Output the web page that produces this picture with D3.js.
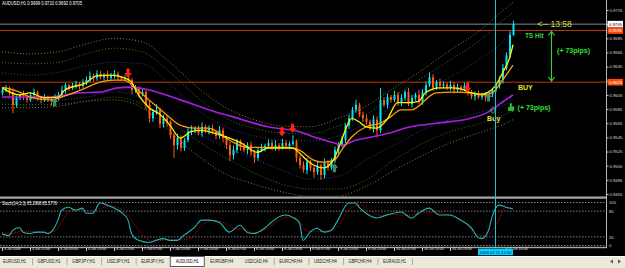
<!DOCTYPE html>
<html>
<head>
<meta charset="utf-8">
<script src="https://d3js.org/d3.v7.min.js"></script>
<style>
body { margin: 0; background: #000; overflow: hidden; }
svg { display: block; }
text { font-family: "Liberation Sans", Arial, sans-serif; }
</style>
</head>
<body>
<svg width="625" height="268"></svg>
<script>
/* AUDUSD H1 bars, 3 Jul 13:00 .. 11 Jul 17:00 */
var firstOpen = 0.9608;
var closes = [
    0.9612, 0.9615, 0.9609, 0.9591, 0.9601, 0.9605, 0.9603, 0.9598, 0.9605, 0.9609,
    0.9601, 0.9598, 0.9602, 0.9599, 0.9596, 0.9601, 0.9605, 0.9612, 0.9619, 0.9615,
    0.9618, 0.9620, 0.9618, 0.9623, 0.9626, 0.9632, 0.9629, 0.9635, 0.9630, 0.9633,
    0.9629, 0.9632, 0.9635, 0.9630, 0.9628, 0.9629, 0.9626, 0.9612, 0.9615, 0.9606,
    0.9609, 0.9591, 0.9572, 0.9581, 0.9584, 0.9564, 0.9572, 0.9567, 0.9548, 0.9534,
    0.9544, 0.9530, 0.9541, 0.9553, 0.9555, 0.9558, 0.9551, 0.9560, 0.9555, 0.9558,
    0.9553, 0.9547, 0.9555, 0.9544, 0.9534, 0.9520, 0.9527, 0.9539, 0.9531, 0.9527,
    0.9534, 0.9524, 0.9516, 0.9527, 0.9530, 0.9533, 0.9537, 0.9530, 0.9534, 0.9531,
    0.9537, 0.9533, 0.9536, 0.9539, 0.9516, 0.9506, 0.9499, 0.9510, 0.9502, 0.9496,
    0.9505, 0.9492, 0.9509, 0.9502, 0.9513, 0.9527, 0.9534, 0.9541, 0.9562, 0.9572,
    0.9584, 0.9591, 0.9577, 0.9572, 0.9567, 0.9558, 0.9570, 0.9555, 0.9598, 0.9591,
    0.9602, 0.9598, 0.9605, 0.9595, 0.9601, 0.9609, 0.9592, 0.9601, 0.9605, 0.9595,
    0.9609, 0.9619, 0.9630, 0.9615, 0.9623, 0.9618, 0.9620, 0.9615, 0.9619, 0.9612,
    0.9616, 0.9613, 0.9618, 0.9609, 0.9603, 0.9606, 0.9602, 0.9605, 0.9601, 0.9606,
    0.9612, 0.9618, 0.9626, 0.9643, 0.9661, 0.9690, 0.9705
];
// wick lengths in pips above / below the body
var upWick = [
    3, 4, 2, 5, 3, 2, 6, 3, 4, 5,
    2, 3, 4, 2, 3, 5, 4, 6, 3, 2,
    4, 5, 3, 4, 5, 6, 3, 5, 4, 3,
    6, 4, 5, 3, 2, 4, 6, 3, 4, 2,
    5, 3, 6, 4, 8, 3, 5, 4, 2, 3,
    6, 4, 3, 5, 7, 3, 4, 6, 3, 4,
    5, 3, 6, 4, 3, 5, 7, 4, 3, 6,
    4, 5, 3, 4, 6, 3, 5, 4, 7, 3,
    6, 4, 3, 9, 3, 4, 5, 6, 3, 4,
    5, 3, 6, 4, 3, 5, 4, 6, 3, 5,
    4, 7, 3, 4, 5, 3, 6, 4, 17, 4,
    5, 3, 6, 4, 5, 3, 6, 4, 3, 7,
    4, 5, 7, 4, 3, 5, 4, 3, 6, 4,
    5, 3, 4, 6, 3, 4, 5, 3, 4, 5,
    3, 4, 5, 6, 4, 5, 5
];
var lowWick = [
    4, 3, 5, 12, 4, 3, 5, 4, 3, 6,
    4, 5, 3, 4, 6, 3, 4, 3, 5, 4,
    3, 4, 5, 3, 4, 3, 5, 4, 3, 5,
    4, 3, 4, 5, 3, 4, 3, 6, 4, 5,
    3, 7, 6, 5, 4, 6, 5, 7, 5, 18,
    6, 5, 4, 3, 5, 4, 3, 5, 4, 6,
    3, 5, 4, 6, 5, 8, 6, 4, 5, 3,
    6, 5, 7, 4, 3, 5, 4, 3, 4, 5,
    3, 4, 5, 3, 6, 5, 4, 6, 5, 8,
    4, 7, 5, 4, 3, 4, 5, 3, 4, 5,
    3, 4, 3, 5, 4, 3, 6, 10, 4, 3,
    5, 4, 3, 5, 6, 4, 3, 5, 4, 3,
    4, 5, 3, 4, 3, 5, 4, 3, 4, 5,
    3, 4, 3, 5, 4, 6, 3, 4, 5, 3,
    4, 3, 4, 5, 3, 4, 2
];

/* moving averages, read at bar indices */
var yellowIdx = [0, 5, 8, 12, 16, 18, 24, 27, 31, 35, 37, 39, 42, 45, 48, 51, 54, 57, 59, 65,
    68, 73, 76, 79, 83, 85, 87, 89, 92, 95, 97, 100, 102, 104, 107, 110, 113, 116, 119, 121,
    125, 129, 132, 134, 137, 139, 141, 143, 145, 146];
var yellowVal = [0.9615, 0.9605, 0.9608, 0.9601, 0.9602, 0.9612, 0.9622, 0.9632, 0.9633, 0.9629,
    0.9623, 0.9605, 0.9587, 0.9578, 0.9562, 0.9544, 0.9553, 0.9555, 0.9553, 0.9544,
    0.9538, 0.9524, 0.9530, 0.9530, 0.9530, 0.9523, 0.9513, 0.9506, 0.9502, 0.9516,
    0.9541, 0.9572, 0.9567, 0.9560, 0.9558, 0.9570, 0.9594, 0.9594, 0.9596, 0.9608,
    0.9615, 0.9615, 0.9612, 0.9608, 0.9606, 0.9609, 0.9618, 0.9636, 0.9657, 0.9676];
var orangeIdx = [0, 5, 8, 14, 17, 24, 28, 32, 35, 38, 42, 47, 51, 55, 59, 65, 70, 76, 82, 85,
    89, 92, 95, 97, 100, 104, 108, 111, 114, 117, 124, 129, 134, 137, 140, 143, 146];
var orangeVal = [0.9616, 0.9609, 0.9602, 0.9598, 0.9602, 0.9615, 0.9623, 0.9626, 0.9626, 0.9615,
    0.9598, 0.9577, 0.9562, 0.9558, 0.9558, 0.9541, 0.9531, 0.9531, 0.9531, 0.9527,
    0.9513, 0.9510, 0.9513, 0.9527, 0.9546, 0.9560, 0.9565, 0.9574, 0.9584, 0.9584,
    0.9608, 0.9609, 0.9608, 0.9605, 0.9608, 0.9626, 0.9647];
var purpleIdx = [0, 14, 22, 28, 33, 37, 42, 51, 59, 66, 76, 85, 90, 95, 97, 101, 106, 112, 115, 124,
    134, 139, 143, 146];
var purpleVal = [0.9602, 0.9602, 0.9608, 0.9609, 0.9615, 0.9616, 0.9612, 0.9598, 0.9584, 0.9574,
    0.9560, 0.9553, 0.9544, 0.9537, 0.9534, 0.9541, 0.9546, 0.9553, 0.9558, 0.9565,
    0.9572, 0.9581, 0.9595, 0.9605];

/* dotted bands */
var bandIdx = [0, 8, 16, 24, 32, 40, 48, 56, 64, 72, 80, 88, 96, 104, 112, 120, 128, 136, 144, 146];
var upperTan = [0.9666, 0.9663, 0.9666, 0.9677, 0.9685, 0.9680, 0.9651, 0.9615, 0.9587, 0.9570,
    0.9561, 0.9560, 0.9572, 0.9589, 0.9615, 0.9640, 0.9668, 0.9694, 0.9728, 0.9736];
var upperGreen = [0.9651, 0.9649, 0.9651, 0.9663, 0.9671, 0.9666, 0.9637, 0.9601, 0.9572, 0.9558,
    0.9551, 0.9550, 0.9561, 0.9578, 0.9603, 0.9629, 0.9654, 0.9680, 0.9714, 0.9722];
var upperBlue = [0.9636, 0.9633, 0.9637, 0.9646, 0.9651, 0.9649, 0.9620, 0.9584, 0.9560, 0.9547,
    0.9541, 0.9540, 0.9547, 0.9565, 0.9589, 0.9612, 0.9630, 0.9654, 0.9685, 0.9697];
var lowerBlue = [0.9601, 0.9598, 0.9598, 0.9602, 0.9609, 0.9601, 0.9577, 0.9551, 0.9531, 0.9515,
    0.9499, 0.9486, 0.9490, 0.9513, 0.9534, 0.9555, 0.9570, 0.9580, 0.9592, 0.9598];
var lowerGreen = [0.9592, 0.9591, 0.9592, 0.9596, 0.9602, 0.9592, 0.9567, 0.9540, 0.9516, 0.9495,
    0.9479, 0.9472, 0.9472, 0.9485, 0.9513, 0.9536, 0.9553, 0.9564, 0.9578, 0.9582];
var lowerTan = [0.9587, 0.9587, 0.9589, 0.9596, 0.9598, 0.9587, 0.9553, 0.9519, 0.9493, 0.9479,
    0.9468, 0.9462, 0.9462, 0.9476, 0.9498, 0.9519, 0.9537, 0.9551, 0.9565, 0.9570];

/* signal arrows */
var sellIdx = [36, 80, 83, 133];
var sellPrice = [0.9636, 0.9553, 0.9558, 0.9615];
var buyIdx = [15, 95, 139];
var buyPrice = [0.9595, 0.9502, 0.9602];

/* horizontal levels */
var currentPrice = 0.9705;
var tsPrice = 0.9696;
var buyLevel = 0.9623;

/* stochastic 14,3,3 */
var stochIdx = [0, 2, 3, 5, 6, 8, 10, 12, 13, 15, 16, 17, 19, 21, 23, 24, 26, 28, 30, 32,
    34, 36, 37, 39, 42, 44, 46, 48, 50, 52, 55, 57, 59, 62, 65, 68, 70, 72, 75, 77,
    79, 81, 83, 85, 86, 88, 90, 92, 94, 96, 99, 101, 102, 104, 107, 110, 114, 117, 119, 122,
    125, 128, 131, 134, 136, 137, 139, 140, 142, 144, 146];
var stochMain = [27, 23, 35, 42, 31, 28, 31, 31, 28, 42, 59, 82, 89, 82, 87, 75, 75, 99, 94, 87,
    78, 59, 28, 12, 7, 12, 16, 12, 12, 24, 42, 59, 59, 54, 31, 47, 31, 28, 40, 54,
    66, 71, 66, 52, 12, 31, 40, 31, 35, 59, 99, 99, 89, 75, 64, 71, 78, 64, 75, 87,
    71, 71, 59, 42, 19, 16, 35, 66, 94, 89, 85];
var signalIdx = [0, 3, 6, 9, 12, 15, 17, 19, 22, 25, 28, 31, 34, 37, 40, 43, 47, 51, 54, 57,
    60, 63, 66, 69, 72, 75, 78, 81, 84, 87, 90, 93, 96, 99, 102, 105, 108, 112, 116, 120,
    124, 128, 132, 135, 138, 141, 144, 146];
var signalVal = [30, 28, 34, 32, 30, 33, 55, 78, 84, 80, 86, 92, 85, 60, 25, 10, 13, 13, 18, 46,
    58, 55, 40, 38, 30, 36, 52, 66, 64, 35, 32, 34, 45, 82, 95, 82, 70, 72, 70, 78,
    78, 70, 55, 30, 22, 45, 88, 86];
var stochLevels = [100, 80, 20, 0];

/* axes (the 11 Jul 07:00 label sits under the cursor box) */
var priceTicks = [0.9725, 0.9705, 0.9685, 0.9665, 0.9645, 0.9625, 0.9605, 0.9585, 0.9565,
    0.9545, 0.9525, 0.9505, 0.9485, 0.9465];
var timeIdx = [0, 8, 16, 24, 32, 40, 48, 56, 64, 72, 80, 88, 96, 104, 112, 120, 128, 144];
var timeLabels = ["3 Jul 2008", "3 Jul 21:00", "4 Jul 05:00", "4 Jul 13:00", "4 Jul 21:00",
    "7 Jul 07:00", "7 Jul 15:00", "7 Jul 23:00", "8 Jul 07:00", "8 Jul 15:00", "8 Jul 23:00",
    "9 Jul 07:00", "9 Jul 15:00", "9 Jul 23:00", "10 Jul 07:00", "10 Jul 15:00", "10 Jul 23:00",
    "11 Jul 15:00"];
var cursorIdx = 141;
var cursorLabel = "2008.07.11 12:00";

var tabs = ["EURUSD,H1", "GBPUSD,H1", "GBPJPY,H1", "USDJPY,H1", "EURJPY,H1", "AUDUSD,H1",
    "EURGBP,H4", "USDCAD,H4", "EURCHF,H4", "USDCHF,H4", "GBPCHF,H4", "EURAUD,H1"];
var activeTab = "AUDUSD,H1";

var svg = d3.select('svg');
var axisX = 606;
var small = 4.2;

var x = d3.scaleLinear().domain([0, 100]).range([2, 352]);
var y = d3.scaleLinear().domain([0.9465, 0.9725]).range([194, 10]);
var ys = d3.scaleLinear().domain([0, 100]).range([245.5, 202.5]);

svg.append("rect").attr("width", 625).attr("height", 268).attr("fill", "#000");

var defs = svg.append("defs");
defs.append("clipPath").attr("id", "clipMain")
    .append("rect").attr("x", 0).attr("y", 0).attr("width", axisX).attr("height", 196.5);
defs.append("clipPath").attr("id", "clipStoch")
    .append("rect").attr("x", 0).attr("y", 199.5).attr("width", axisX).attr("height", 47);

var main = svg.append("g").attr("clip-path", "url(#clipMain)");

function pairs(idx, vals) {
    return idx.map(function(d, i) {
        return [d, vals[i]];
    });
}

var priceLine = d3.line()
    .x(function(d) { return x(d[0]); })
    .y(function(d) { return y(d[1]); })
    .curve(d3.curveMonotoneX);

// bands
var bands = [
    [upperTan, "#8c7a3c"], [lowerTan, "#8c7a3c"],
    [upperGreen, "#2e7a2e"], [lowerGreen, "#2e7a2e"],
    [upperBlue, "#2c3f94"], [lowerBlue, "#2c3f94"]
];
main.append("g")
    .selectAll("path")
    .data(bands)
    .enter()
    .append("path")
    .attr("d", function(d) { return priceLine(pairs(bandIdx, d[0])); })
    .attr("fill", "none")
    .attr("stroke", function(d) { return d[1]; })
    .attr("stroke-width", 1)
    .attr("stroke-dasharray", "1,2");

// horizontal levels
main.append("line")
    .attr("x1", 0).attr("x2", axisX)
    .attr("y1", y(currentPrice)).attr("y2", y(currentPrice))
    .attr("stroke", "#7d8a98");
[tsPrice, buyLevel].forEach(function(p) {
    main.append("line")
        .attr("x1", 0).attr("x2", axisX)
        .attr("y1", y(p)).attr("y2", y(p))
        .attr("stroke", "#b8360e");
});

// candles
var bars = closes.map(function(c, i) {
    var o = i === 0 ? firstOpen : closes[i - 1];
    return {
        i: i, o: o, c: c,
        h: Math.max(o, c) + upWick[i] / 10000,
        l: Math.min(o, c) - lowWick[i] / 10000
    };
});
function barColor(d) {
    return d.c >= d.o ? "#00e8f4" : "#ff5c12";
}
var candle = main.append("g")
    .selectAll("g")
    .data(bars)
    .enter()
    .append("g");
candle.append("line")
    .attr("x1", function(d) { return x(d.i) + 0.5; })
    .attr("x2", function(d) { return x(d.i) + 0.5; })
    .attr("y1", function(d) { return y(d.h); })
    .attr("y2", function(d) { return y(d.l); })
    .attr("stroke", barColor);
candle.append("rect")
    .attr("x", function(d) { return x(d.i) - 0.5; })
    .attr("width", 2)
    .attr("y", function(d) { return y(Math.max(d.o, d.c)); })
    .attr("height", function(d) { return Math.max(1, Math.abs(y(d.o) - y(d.c))); })
    .attr("fill", barColor);

// moving averages
main.append("path")
    .attr("d", priceLine(pairs(purpleIdx, purpleVal)))
    .attr("fill", "none").attr("stroke", "#a81ee0").attr("stroke-width", 1.6);
main.append("path")
    .attr("d", priceLine(pairs(orangeIdx, orangeVal)))
    .attr("fill", "none").attr("stroke", "#ff9a10").attr("stroke-width", 1.3);
main.append("path")
    .attr("d", priceLine(pairs(yellowIdx, yellowVal)))
    .attr("fill", "none").attr("stroke", "#fff000").attr("stroke-width", 1.3);

// arrows
var downArrow = "M-1.6,-4.5H1.6V0H3.9L0,4.5L-3.9,0H-1.6Z";
var upArrow = "M-1.6,4.5H1.6V0H3.9L0,-4.5L-3.9,0H-1.6Z";
main.append("g")
    .selectAll("path")
    .data(pairs(sellIdx, sellPrice))
    .enter()
    .append("path")
    .attr("d", downArrow)
    .attr("transform", function(d) { return "translate(" + x(d[0]) + "," + y(d[1]) + ")"; })
    .attr("fill", "#ff2018");
main.append("g")
    .selectAll("path")
    .data(pairs(buyIdx, buyPrice))
    .enter()
    .append("path")
    .attr("d", upArrow)
    .attr("transform", function(d) { return "translate(" + x(d[0]) + "," + y(d[1]) + ")"; })
    .attr("fill", "#3f9474")
    .attr("fill-opacity", 0.9);

// annotations
var ann = svg.append("g");
ann.append("text")
    .attr("x", x(153)).attr("y", y(currentPrice) + 3)
    .attr("font-size", 8.5).attr("fill", "#dcdc3c")
    .text("<-- 13:58");
ann.append("text")
    .attr("x", x(149.4)).attr("y", y(0.9688) + 2.3)
    .attr("font-size", 6.5).attr("font-weight", "bold").attr("fill", "#3cd23c")
    .text("TS Hit");
ann.append("text")
    .attr("x", x(158.6)).attr("y", y(0.9668) + 2.5)
    .attr("font-size", 7).attr("font-weight", "bold").attr("fill", "#32e032")
    .text("(+ 73pips)");
var ax = x(157);
ann.append("path")
    .attr("d", "M" + ax + "," + (y(tsPrice) + 1) + "V" + (y(buyLevel) - 1) +
        "M" + (ax - 3) + "," + (y(tsPrice) + 5) + "L" + ax + "," + (y(tsPrice) + 1) + "L" + (ax + 3) + "," + (y(tsPrice) + 5) +
        "M" + (ax - 3) + "," + (y(buyLevel) - 5) + "L" + ax + "," + (y(buyLevel) - 1) + "L" + (ax + 3) + "," + (y(buyLevel) - 5))
    .attr("fill", "none").attr("stroke", "#3cd23c").attr("stroke-width", 1.1);
ann.append("text")
    .attr("x", x(147.4)).attr("y", y(0.9615) + 2.5)
    .attr("font-size", 7).attr("font-weight", "bold").attr("fill", "#e6e622")
    .text("BUY");
// pointing hand
ann.append("path")
    .attr("d", "M-0.8,-4.2H0.8V-1H3V3H-2.6V-0.4H-0.8Z")
    .attr("transform", "translate(" + x(145.4) + "," + y(0.9587) + ")")
    .attr("fill", "#2fb82f").attr("stroke", "#44dd44").attr("stroke-width", 0.4);
ann.append("text")
    .attr("x", x(147.3)).attr("y", y(0.9587) + 2.5)
    .attr("font-size", 7).attr("font-weight", "bold").attr("fill", "#32e032")
    .text("(+ 73pips)");
ann.append("text")
    .attr("x", x(138.6)).attr("y", y(0.9572) + 2.5)
    .attr("font-size", 7).attr("font-weight", "bold").attr("fill", "#e6e63c")
    .text("Buy");
ann.append("path")
    .attr("d", "M-1.2,3.2H1.2V0H3L0,-3.4L-3,0H-1.2Z")
    .attr("transform", "translate(" + x(140.3) + "," + y(0.9584) + ")")
    .attr("fill", "none").attr("stroke", "#3cbf3c").attr("stroke-width", 0.8);

// price axis
svg.append("line")
    .attr("x1", axisX + 0.5).attr("x2", axisX + 0.5)
    .attr("y1", 0).attr("y2", 248)
    .attr("stroke", "#b8b8b8");
var yAxis = svg.append("g")
    .attr("transform", "translate(" + (axisX + 0.5) + ",0)")
    .call(d3.axisRight(y).tickValues(priceTicks).tickFormat(d3.format(".4f")).tickSize(2).tickPadding(1));
yAxis.select(".domain").remove();
yAxis.selectAll("line").attr("stroke", "#c8c8c8");
yAxis.selectAll("text")
    .attr("fill", "#d8d8d8").attr("font-size", small)
    .attr("font-family", "'Liberation Sans', Arial, sans-serif");

function priceBox(p, bg, fg) {
    svg.append("rect")
        .attr("x", axisX + 1.5).attr("y", y(p) - 3.3)
        .attr("width", 15.5).attr("height", 6.6)
        .attr("fill", bg);
    svg.append("text")
        .attr("x", axisX + 3).attr("y", y(p) + 1.6)
        .attr("font-size", small).attr("fill", fg)
        .text(d3.format(".4f")(p));
}
priceBox(currentPrice, "#ffffff", "#000000");
priceBox(tsPrice, "#ff4a06", "#ffffff");
priceBox(buyLevel, "#ff4a06", "#ffffff");

// header
svg.append("text")
    .attr("x", 2).attr("y", 5)
    .attr("font-size", 4.6).attr("fill", "#ffffff")
    .attr("textLength", 80).attr("lengthAdjust", "spacingAndGlyphs")
    .text("AUDUSD,H1  0.9699 0.9710 0.9692 0.9705");

// panel separators
svg.append("rect").attr("x", 0).attr("y", 196.5).attr("width", axisX + 1).attr("height", 2.2).attr("fill", "#a8a8a8");
svg.append("rect").attr("x", 0).attr("y", 246.8).attr("width", axisX + 1).attr("height", 1.4).attr("fill", "#a8a8a8");

// stochastic
var stoch = svg.append("g").attr("clip-path", "url(#clipStoch)");
stoch.selectAll("line.level")
    .data(stochLevels)
    .enter()
    .append("line")
    .attr("class", "level")
    .attr("x1", 0).attr("x2", axisX)
    .attr("y1", function(d) { return ys(d); })
    .attr("y2", function(d) { return ys(d); })
    .attr("stroke", "#a0a0a0")
    .attr("stroke-width", 0.8)
    .attr("stroke-dasharray", "1.5,1.5");
var stochLine = d3.line()
    .x(function(d) { return x(d[0]); })
    .y(function(d) { return ys(d[1]); })
    .curve(d3.curveMonotoneX);
stoch.append("path")
    .attr("d", stochLine(pairs(signalIdx, signalVal)))
    .attr("fill", "none").attr("stroke", "#e00000").attr("stroke-width", 1)
    .attr("stroke-dasharray", "1,1.2");
stoch.append("path")
    .attr("d", stochLine(pairs(stochIdx, stochMain)))
    .attr("fill", "none").attr("stroke", "#1fb8b8").attr("stroke-width", 1.1);
svg.append("text")
    .attr("x", 2).attr("y", 204.5)
    .attr("font-size", 4.6).attr("fill", "#ffffff")
    .attr("textLength", 55).attr("lengthAdjust", "spacingAndGlyphs")
    .text("Stoch(14,3,3) 85.2968 85.5776");
svg.append("g")
    .selectAll("text")
    .data(stochLevels)
    .enter()
    .append("text")
    .attr("x", axisX + 3)
    .attr("y", function(d) { return ys(d) + 1.6; })
    .attr("font-size", small).attr("fill", "#d8d8d8")
    .text(function(d) { return d; });

// cursor line
svg.append("line")
    .attr("x1", x(cursorIdx)).attr("x2", x(cursorIdx))
    .attr("y1", 0).attr("y2", 247)
    .attr("stroke", "#1ec4d4");

// time axis
var xAxis = svg.append("g")
    .attr("transform", "translate(0,248)")
    .call(d3.axisBottom(x).tickValues(timeIdx)
        .tickFormat(function(d, i) { return timeLabels[i]; })
        .tickSize(3).tickPadding(0.5));
xAxis.select(".domain").remove();
xAxis.selectAll("line").attr("stroke", "#c8c8c8");
xAxis.selectAll("text")
    .attr("text-anchor", "start")
    .attr("dx", 1.5).attr("dy", "-0.3em")
    .attr("fill", "#e0e0e0").attr("font-size", 4.4)
    .attr("font-family", "'Liberation Sans', Arial, sans-serif")
    .attr("textLength", function(d, i) { return timeLabels[i].length * 1.65; })
    .attr("lengthAdjust", "spacingAndGlyphs");
svg.append("rect")
    .attr("x", x(cursorIdx) - 17.5).attr("y", 248.6)
    .attr("width", 35).attr("height", 6.6)
    .attr("fill", "#00d4f8");
svg.append("text")
    .attr("x", x(cursorIdx) - 16).attr("y", 253.6)
    .attr("font-size", 4.4).attr("fill", "#00008a")
    .attr("textLength", 32).attr("lengthAdjust", "spacingAndGlyphs")
    .text(cursorLabel);

// tab bar
var tabBar = svg.append("g");
tabBar.append("rect").attr("x", 0).attr("y", 256).attr("width", 625).attr("height", 12).attr("fill", "#ece9d8");
tabBar.append("line").attr("x1", 0).attr("x2", 625).attr("y1", 256.5).attr("y2", 256.5).attr("stroke", "#ffffff");
var tabX = d3.scaleLinear().domain([0, 11]).range([3, 383]);
tabBar.append("rect")
    .attr("x", tabX(5) - 5.5).attr("y", 256.5)
    .attr("width", 34).attr("height", 10)
    .attr("fill", "#ffffff").attr("stroke", "#333333").attr("stroke-width", 0.8);
tabBar.selectAll("text.tab")
    .data(tabs)
    .enter()
    .append("text")
    .attr("class", "tab")
    .attr("x", function(d, i) { return tabX(i); })
    .attr("y", 263.3)
    .attr("font-size", 5)
    .attr("fill", function(d) { return d === activeTab ? "#000000" : "#222222"; })
    .attr("textLength", 23)
    .attr("lengthAdjust", "spacingAndGlyphs")
    .text(function(d) { return d; });
tabBar.selectAll("line.sep")
    .data(tabs.filter(function(d, i) { return d !== activeTab && tabs[i - 1] !== activeTab; }))
    .enter()
    .append("line")
    .attr("class", "sep")
    .attr("x1", function(d) { return tabX(tabs.indexOf(d)) + 29.5; })
    .attr("x2", function(d) { return tabX(tabs.indexOf(d)) + 29.5; })
    .attr("y1", 258.5).attr("y2", 265)
    .attr("stroke", "#8c8c8c").attr("stroke-width", 0.7);
tabBar.append("path").attr("d", "M610,261.5L613,259.5V263.5Z").attr("fill", "#555");
tabBar.append("path").attr("d", "M621,261.5L618,259.5V263.5Z").attr("fill", "#555");
</script>
</body>
</html>
